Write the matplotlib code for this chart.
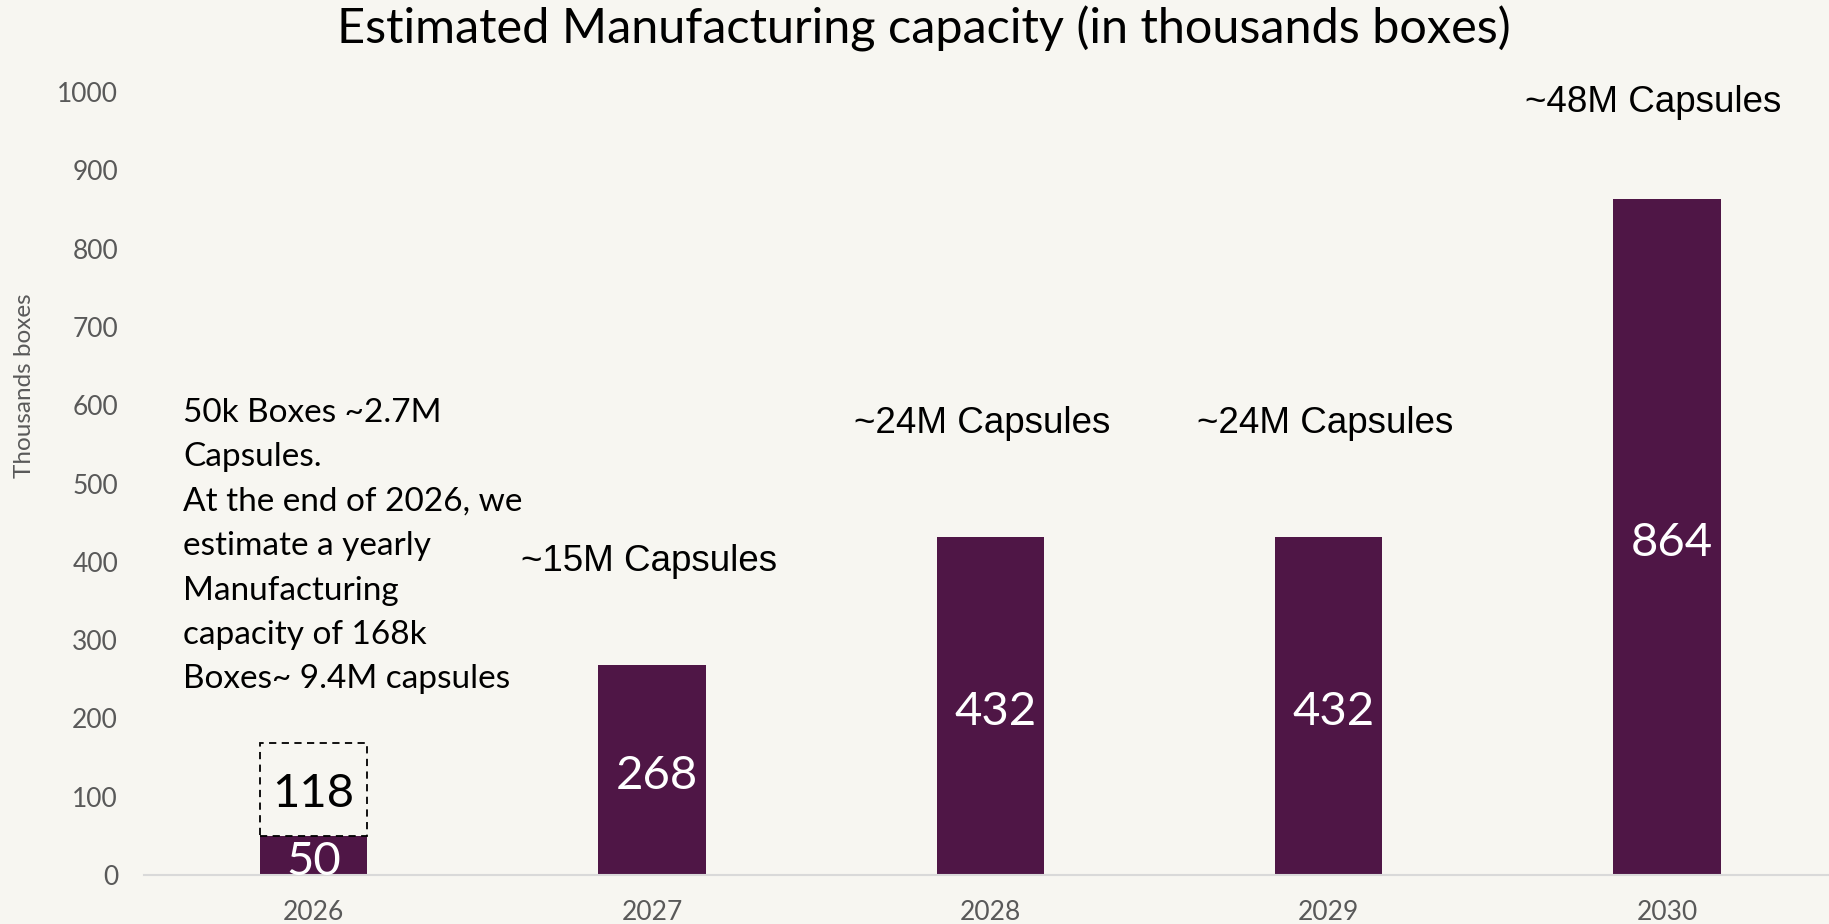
import matplotlib.pyplot as plt
from matplotlib.patches import Rectangle

# data
years = ["2026", "2027", "2028", "2029", "2030"]
capacity = [50, 268, 432, 432, 864]
extra_2026 = 118  # estimated additional capacity at end of 2026 (dashed)
capsule_notes = ["", "~15M Capsules", "~24M Capsules", "~24M Capsules", "~48M Capsules"]
note_y = [0, 400, 577, 577, 987]
note_dx = [0, -0.01, -0.024, -0.01, -0.04]
label_dx = [0.0, 0.015, 0.015, 0.015, 0.015]
note_2026 = ("50k Boxes ~2.7M\nCapsules.\nAt the end of 2026, we\nestimate a yearly\n"
             "Manufacturing\ncapacity of 168k\nBoxes~ 9.4M capsules")

bg = "#F7F6F1"
bar_col = "#4F1646"
grey = "#595959"
main_font = "Lato"

fig = plt.figure(figsize=(18.29, 9.24), dpi=100, facecolor=bg)
ax = fig.add_axes([0.079, 0.053, 0.921, 0.8474], facecolor=bg)

x = list(range(len(years)))
ax.bar(x, capacity, width=0.317, color=bar_col, zorder=2)

# dashed box on top of the 2026 bar
ax.add_patch(Rectangle((x[0] - 0.317 / 2, capacity[0]), 0.317, extra_2026,
                       fill=False, edgecolor="black", linestyle=(0, (4, 3)), linewidth=1.3, zorder=3))

# value labels
for i, v in enumerate(capacity):
    ax.text(i + label_dx[i], v / 2 - 8, str(v), ha="center", va="center", color="white",
            fontsize=34, family=main_font, zorder=4)
ax.text(0.0, capacity[0] + extra_2026 / 2 - 6, str(extra_2026), ha="center", va="center",
        color="black", fontsize=34, family=main_font, zorder=4)

# capsule notes
for i, t in enumerate(capsule_notes):
    if t:
        ax.text(i + note_dx[i], note_y[i], t, ha="center", va="center", fontsize=26.5,
                family="Liberation Sans", color="black")

ax.text(-0.386, 420, note_2026, ha="left", va="center", fontsize=24,
        family=main_font, linespacing=1.6, color="black")

ax.set_xlim(-0.5, 4.479)
ax.set_ylim(0, 1000)
ax.set_yticks(range(0, 1001, 100))
ax.set_xticks(x)
ax.set_xticklabels(years)
ax.tick_params(length=0, labelsize=19, labelcolor=grey)
ax.tick_params(axis="x", pad=18)
ax.tick_params(axis="y", pad=19)
for lab in ax.get_xticklabels() + ax.get_yticklabels():
    lab.set_family(main_font)

for s in ["top", "right", "left"]:
    ax.spines[s].set_visible(False)
ax.spines["bottom"].set_color("#D9D9D9")
ax.spines["bottom"].set_linewidth(1.5)

fig.text(0.0135, 0.583, "Thousands boxes", rotation=90, ha="center", va="center",
         fontsize=17.5, color=grey, family=main_font)
fig.text(0.505, 0.969, "Estimated Manufacturing capacity (in thousands boxes)",
         ha="center", va="center", fontsize=35, family=main_font, color="black")

fig.savefig("out.png", dpi=100, facecolor=bg)
